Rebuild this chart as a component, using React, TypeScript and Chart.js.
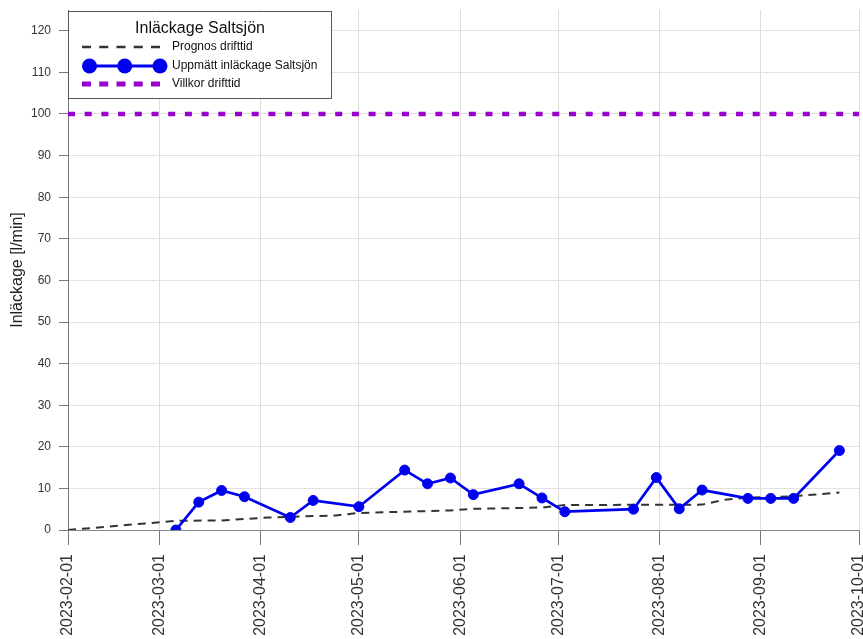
import React, { useEffect, useRef } from 'react';
import { Chart, registerables } from 'chart.js';

Chart.register(...registerables);

const FONT = "'Liberation Sans', Arial, Helvetica, sans-serif";

// ---- data ----
const X_TICK_DATES = [
  '2023-02-01', '2023-03-01', '2023-04-01', '2023-05-01', '2023-06-01',
  '2023-07-01', '2023-08-01', '2023-09-01', '2023-10-01',
];
const Y_TICKS = [0, 10, 20, 30, 40, 50, 60, 70, 80, 90, 100, 110, 120];
const Y_MIN = 0;
const Y_MAX = 125;

const PROGNOS_DATES = [
  '2023-02-01', '2023-03-06', '2023-03-20', '2023-04-03', '2023-04-24',
  '2023-05-01', '2023-05-29', '2023-06-05', '2023-06-26', '2023-07-03',
  '2023-08-14', '2023-08-21', '2023-08-28', '2023-09-11', '2023-09-25',
];
const PROGNOS_VALUES = [0, 2.2, 2.3, 3.0, 3.5, 4.1, 4.7, 5.1, 5.4, 6.0, 6.1, 7.3, 7.8, 8.1, 9.0];

const MEASURED_DATES = [
  '2023-03-06', '2023-03-13', '2023-03-20', '2023-03-27', '2023-04-10',
  '2023-04-17', '2023-05-01', '2023-05-15', '2023-05-22', '2023-05-29',
  '2023-06-05', '2023-06-19', '2023-06-26', '2023-07-03', '2023-07-24',
  '2023-07-31', '2023-08-07', '2023-08-14', '2023-08-28', '2023-09-04',
  '2023-09-11', '2023-09-25',
];
const MEASURED_VALUES = [
  0, 6.7, 9.5, 8.0, 3.0, 7.1, 5.6, 14.4, 11.1, 12.5, 8.5,
  11.1, 7.7, 4.4, 5.0, 12.6, 5.1, 9.6, 7.6, 7.6, 7.6, 19.1,
];

const LIMIT_DATES = ['2023-02-01', '2023-10-01'];
const LIMIT_VALUES = [100, 100];

const LEGEND_TITLE = 'Inläckage Saltsjön';
const SERIES_LABELS = ['Prognos drifttid', 'Uppmätt inläckage Saltsjön', 'Villkor drifttid'];
const Y_TITLE = 'Inläckage [l/min]';

// ---- helpers ----
const toMs = (d: string) => Date.parse(d + 'T00:00:00Z');
const toPoints = (dates: string[], values: number[]) =>
  dates.map((d, i) => ({ x: toMs(d), y: values[i] }));

const LEGEND_STYLE = [
  { width: 2.5, dash: [9, 8.25], marker: 0 },
  { width: 3, dash: [] as number[], marker: 7.5 },
  { width: 5, dash: [9, 8.25], marker: 0 },
];

const boxLegend = {
  id: 'boxLegend',
  afterDraw(chart: any) {
    const { ctx, chartArea } = chart;
    const left = chartArea.left;
    const top = chartArea.top + 1;
    const width = 264;
    const height = 88;
    ctx.save();
    ctx.fillStyle = '#ffffff';
    ctx.fillRect(left, top, width, height);
    ctx.strokeStyle = '#555555';
    ctx.lineWidth = 1;
    ctx.strokeRect(left + 0.5, top + 0.5, width - 1, height - 1);

    ctx.fillStyle = '#111111';
    ctx.font = `16px ${FONT}`;
    ctx.textAlign = 'center';
    ctx.textBaseline = 'middle';
    ctx.fillText(LEGEND_TITLE, left + width / 2, top + 18);

    const rows = [36, 55, 73];
    chart.data.datasets.forEach((ds: any, i: number) => {
      const st = LEGEND_STYLE[i];
      const y = top + rows[i];
      const x1 = left + 14;
      const x2 = left + 92;
      ctx.save();
      ctx.strokeStyle = ds.borderColor;
      ctx.lineWidth = st.width;
      ctx.setLineDash(st.dash);
      ctx.beginPath();
      const sx = st.marker ? x1 + st.marker : x1;
      ctx.moveTo(sx, y);
      ctx.lineTo(x2, y);
      ctx.stroke();
      ctx.setLineDash([]);
      if (st.marker) {
        ctx.fillStyle = ds.pointBackgroundColor;
        [sx, (sx + x2) / 2, x2].forEach((cx) => {
          ctx.beginPath();
          ctx.arc(cx, y, st.marker, 0, Math.PI * 2);
          ctx.fill();
        });
      }
      ctx.restore();
      ctx.fillStyle = '#111111';
      ctx.font = `12px ${FONT}`;
      ctx.textAlign = 'left';
      ctx.textBaseline = 'middle';
      ctx.fillText(ds.label, left + 104, y);
    });
    ctx.restore();
  },
};

export default function App() {
  const canvasRef = useRef<HTMLCanvasElement | null>(null);

  useEffect(() => {
    if (!canvasRef.current) return;
    const chart = new Chart(canvasRef.current, {
      type: 'line',
      data: {
        datasets: [
          {
            label: SERIES_LABELS[0],
            data: toPoints(PROGNOS_DATES, PROGNOS_VALUES),
            borderColor: '#333333',
            borderWidth: 2,
            borderDash: [8, 6],
            pointRadius: 0,
            tension: 0,
            order: 1,
          },
          {
            label: SERIES_LABELS[1],
            data: toPoints(MEASURED_DATES, MEASURED_VALUES),
            borderColor: 'rgb(0,0,240)',
            backgroundColor: 'rgb(0,0,240)',
            pointBackgroundColor: 'rgb(0,0,240)',
            pointBorderColor: 'rgb(0,0,240)',
            borderWidth: 2.7,
            pointRadius: 5,
            pointBorderWidth: 1,
            tension: 0,
            order: 0,
          },
          {
            label: SERIES_LABELS[2],
            data: toPoints(LIMIT_DATES, LIMIT_VALUES),
            borderColor: '#9900CC',
            borderWidth: 4.5,
            borderDash: [7, 9.7],
            pointRadius: 0,
            tension: 0,
            order: 2,
          },
        ],
      },
      options: {
        responsive: false,
        animation: false,
        devicePixelRatio: 1,
        layout: { padding: { top: 10, right: 0, left: 0, bottom: 0 } },
        plugins: {
          legend: { display: false },
          tooltip: { enabled: false },
        },
        scales: {
          x: {
            type: 'linear',
            min: toMs(X_TICK_DATES[0]),
            max: toMs(X_TICK_DATES[X_TICK_DATES.length - 1]),
            afterBuildTicks: (scale: any) => {
              scale.ticks = X_TICK_DATES.map((d) => ({ value: toMs(d) }));
            },
            afterFit: (scale: any) => {
              scale.height = 109;
              scale.paddingLeft = 0;
              scale.paddingRight = 0;
            },
            grid: {
              color: '#dddddd',
              tickColor: '#777777',
              tickLength: 15,
              lineWidth: 1,
            },
            border: { color: '#888888', width: 1 },
            ticks: {
              autoSkip: false,
              minRotation: 90,
              maxRotation: 90,
              padding: 9,
              color: '#333333',
              font: { family: FONT, size: 16 },
              callback: (_v: any, i: number) => X_TICK_DATES[i],
            },
          },
          y: {
            type: 'linear',
            min: Y_MIN,
            max: Y_MAX,
            afterBuildTicks: (scale: any) => {
              scale.ticks = Y_TICKS.map((v) => ({ value: v }));
            },
            afterFit: (scale: any) => {
              scale.width = 68;
              scale.paddingTop = 0;
              scale.paddingBottom = 0;
            },
            grid: {
              color: '#e2e2e2',
              tickColor: '#777777',
              tickLength: 9,
              lineWidth: 1,
            },
            border: { color: '#777777', width: 1 },
            ticks: {
              includeBounds: false,
              padding: 8,
              color: '#333333',
              font: { family: FONT, size: 12 },
              callback: (v: any) => String(v),
            },
            title: {
              display: true,
              text: Y_TITLE,
              color: '#222222',
              font: { family: FONT, size: 16 },
              padding: { top: 8, bottom: 0 },
            },
          },
        },
      } as any,
      plugins: [boxLegend],
    });
    return () => chart.destroy();
  }, []);

  return (
    <div
      style={{
        position: 'fixed',
        left: 0,
        top: 0,
        width: 863,
        height: 639,
        overflow: 'hidden',
        background: '#ffffff',
      }}
    >
      <canvas ref={canvasRef} width={865} height={639} style={{ display: 'block' }} />
    </div>
  );
}
